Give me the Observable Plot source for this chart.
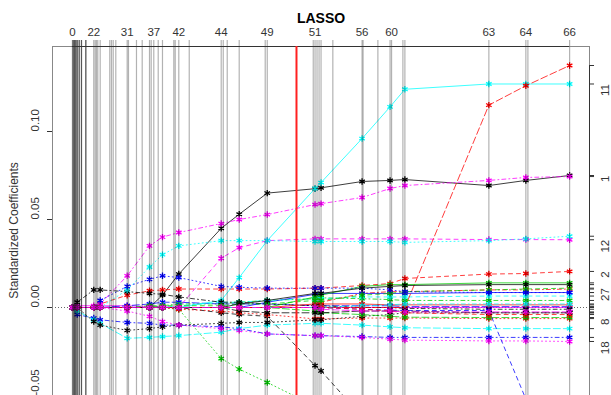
<!DOCTYPE html>
<html><head><meta charset="utf-8">
<script src="https://cdn.jsdelivr.net/npm/d3@7"></script>
<script src="https://cdn.jsdelivr.net/npm/@observablehq/plot@0.6"></script>
<style>body{margin:0;background:#fff;overflow:hidden} svg{display:block}</style>
</head><body><div id="chart"></div>
<script>
// |beta|/max|beta| at each LARS step 0..66
const stepPos = [0,0.0016,0.0016,0.0016,0.0042,0.0042,0.0042,0.0068,0.0068,0.0068,0.0097,0.0097,0.0097,0.0137,0.0137,0.0137,0.0183,0.0183,0.0183,0.0270,0.0270,0.0270,
  0.0430,0.0459,0.0485,0.0511,0.0559,0.0752,0.0786,0.0821,0.0873,
  0.1102,0.1128,0.1289,0.1404,0.1551,0.1585,0.1637,0.1726,0.1812,0.2040,0.2068,0.2140,0.2350,
  0.2993,0.3034,0.3114,0.3355,0.3878,0.3919,0.4844,0.4880,0.4920,0.4961,0.5001,0.5238,
  0.5826,0.5846,0.6144,0.6389,0.6419,0.6647,0.6687,0.8376,0.9120,0.9161,1.0];
const topLabelSteps = [0,22,31,37,42,44,49,51,56,60,63,64,66];
const knotSteps = [0,10,22,26,31,35,39,42,44,47,49,51,54,56,59,62,63,64,66];
// standardized coefficients (x 1000) at the knot steps, per variable
const v1  = [0,0,0,0,0,0,7,19,45,53,65,67.5,68,71.6,72.2,72.7,69.3,72.2,75];
const v2  = [0,0,0,2,7,9.5,10,10.5,10.5,10.5,10.5,11,11,12.5,13.6,16.5,19,19.3,20.5];
const v3  = [0,0,0,0,0,0,0,-1,-29,-35,-42.6,-56,-58,-70,-80,-85,-90,-95,-100];
const v4  = [0,-4,-6,-7,-8.5,-9,-10,-10,-11,-12,-15,-16,-16,-16.5,-17,-17,-17,-17,-17];
const v5  = [0,-2,-7,-9,-17.5,-17,-16.5,-16,-14,-12,-10,-9,-9,-10,-11,-11.5,-12,-12,-12];
const v6  = [0,1,1,1,1,0.5,0.5,0,0,0,0,0,0,0,0,0,0,0,0];
const v7  = [0,0,0,0,0,0,0,0,-3,-4,-5,-33,-36,-62,-80,-85,-90,-95,-100];
const v8  = [0,0,0,0,0,0,0,-1,-2,-3,-4,-6.5,-6.5,-6,-6,-6,-6.3,-6.3,-6.3];
const v9  = [0,0,0,0,0,0,1,2,2,3,4,5,5.5,5,4.5,4,4,4,4];
const v10 = [0,0,0,0,1,2,3,3,2,2,2,1,1,1,1,0.5,0.5,0.5,0.5];
const v11 = [0,0,0,0,0,0,0,0,4,17,38,67.6,71,96,114,124,127,127,127];
const v12 = [0,0,0,0,0,0,0,0,28,34,38,39,39,39,39,39,38.6,38.6,38.5];
const v13 = [0,0,-8,-10,-13,-12,-11,-10,-9,-8.5,-8.5,-7,-7,-5,-4,-3,-3,-3,-3];
const v14 = [0,0,0,0,0,0,0,0,0,0,0,0,3,8,9,9,10,10,10.5];
const v15 = [0,0,0,0,0,0,0,0,0,0,0,-2,-3,-4,-5,-5.5,-5.7,-5.7,-5.7];
const v16 = [0,0,0,0,0,0,0,0,0,0,3,7.5,8,8,8,8,8.5,8.5,8.5];
const v17 = [0,0,0,0,0,0,0,1,3,3,4,5,5,6,6,6,6.5,6.5,6.5];
const v18 = [0,0,0,0,-2,-5,-8,-10,-12,-13,-15,-16,-16,-17,-18,-18.5,-19,-19,-19.3];
const v19 = [0,3,10,10,9,8,7.5,6,3,3,2,1,1,0,0,-0.5,-1,-1,-1];
const v20 = [0,0,0,0,0,0,0,0,0,0,0,0,0,0,0,0,115,126,137.5];
const v21 = [0,0,0,0,0,0,0,0,0,0,0,6,7,12,13,13,14,14,14];
const v22 = [0,0,0,0,0,0,0,0,0,0,0,0,0,-1,-1.5,-1.7,-1.7,-52,-75];
const v23 = [0,0,0,0,10,23,30,35,38,38,38,37.5,37.5,37.5,37.5,37,38,39,40.5];
const v24 = [0,0,0,2,18,35,40,42.6,47.7,50,52.8,58.5,59,62.5,67.6,69.3,72.2,73.9,74.4];
const v25 = [0,0,0,0,0,0,0,0,0,-2,-3,-3,-3,-2,-2,-2,-3,-3,-3];
const v26 = [0,0,0,0,0,0,0,0,0,0,0,2,2,2,1.5,1.5,1.5,1.5,1.5];
const v27 = [0,0,0,0,0,1,1,1,1,2,2,4,4,7,8,9,10,10.5,11];
const v28 = [0,0,0,4,12,16,18,17,12,11.5,11,11,11,11,10,9,8.5,8.5,8.5];
const v29 = [0,0,0,0,0,0,0,0,0,0,0,0,0,1,1.5,2,2,2,2];
const v30 = [0,0,0,0,0,0,0,0,0,0,0,0,-1,-2,-2,-2.5,-2.5,-2.5,-2.5];
const v31 = [0,0,0,0,0,0,0,0,0,2,4,8,8,11,12,12.5,13,13,13];
const v32 = [0,0,0,0,0,0,0,0,0,0,0,0,0,-1,-2,-3,-4,-4,-4];
const paths = [v1,v2,v3,v4,v5,v6,v7,v8,v9,v10,v11,v12,v13,v14,v15,v16,v17,v18,v19,v20,v21,v22,v23,v24,v25,v26,v27,v28,v29,v30,v31,v32];
const rightLabels = [11,1,12,2,27,8,18];
const chosenFraction = 0.4507;
const yTicks = [-0.05,0,0.05,0.10];

const palette = ["#000000","#FF0000","#00CD00","#0000FF","#00FFFF","#FF00FF"];
const dashes = [null,"4,4","1,3","1,3,4,3","7,3"];
const yTop = 0.1483, yBot = -0.05;

const series = paths.map((vals,k) => ({
  id: k+1,
  color: palette[k % 6],
  dash: dashes[k % 5],
  rows: knotSteps.map((s,i) => ({x: stepPos[s], y: vals[i]/1000}))
}));
const finals = series.map(s => s.rows[s.rows.length-1].y).filter(v => v >= yBot && v <= yTop);
// magenta series drawn last so it sits on top along the zero line
const drawOrder = series.filter(s => s.id !== 30).concat(series.filter(s => s.id === 30));

const marks = [];
marks.push(Plot.ruleY([0], {stroke:"#666", strokeDasharray:"1,2"}));
for (const s of drawOrder) {
  marks.push(Plot.line(s.rows, {x:"x", y:"y", stroke:s.color, strokeWidth:0.9, strokeOpacity:0.85, strokeDasharray:s.dash, clip:true}));
}
for (const s of drawOrder) {
  marks.push(Plot.dot(s.rows, {x:"x", y:"y", symbol:"asterisk", r:3, stroke:s.color, strokeWidth:1.3, clip:true}));
}
marks.push(Plot.ruleX(stepPos, {y1:-0.06, y2:0.1517, stroke:"#000", strokeOpacity:0.3, strokeWidth:1.2, clip:false}));
marks.push(Plot.frame({stroke:"#888"}));
marks.push(Plot.ruleY([yTop], {x1:0, x2:1, stroke:"#333"}));
marks.push(Plot.ruleX([chosenFraction], {stroke:"#FF2020", strokeWidth:2}));
marks.push(Plot.axisX({anchor:"top", label:null, ticks: topLabelSteps.map(s => stepPos[s]), tickSize:0, tickPadding:11,
  tickFormat: d => String(stepPos.indexOf(d)), fontSize:11.5, fill:"#333"}));
marks.push(Plot.axisY({label:null, ticks: yTicks, tickSize:5, tickFormat: () => "", stroke:"#333"}));
marks.push(Plot.text(yTicks, {y: d => d, frameAnchor:"left", dx:-17, rotate:-90, text: d => d.toFixed(2), fontSize:11.5, fill:"#333"}));
marks.push(Plot.text(["Standardized Coefficients"], {y: [0.005], frameAnchor:"left", dx:-38, rotate:-90, fontSize:12, fill:"#333"}));
marks.push(Plot.text(["LASSO"], {frameAnchor:"top", dy:-33, fontWeight:"bold", fontSize:14, fill:"#000"}));
marks.push(Plot.ruleY(finals, {x1:1.04, x2:1.0501, stroke:"#333", clip:false}));
marks.push(Plot.ruleX([1.04], {y1: d3.min(finals), y2: d3.max(finals), stroke:"#333"}));
marks.push(Plot.text(rightLabels, {y: k => paths[k-1][paths[k-1].length-1]/1000, frameAnchor:"right", dx:16, rotate:-90, text: k => String(k), fontSize:11.5, fill:"#333"}));

const chart = Plot.plot({
  width: 611, height: 395,
  marginLeft: 52, marginRight: 22, marginTop: 46, marginBottom: 0,
  x: {domain: [-0.04, 1.04], label: null},
  y: {domain: [yBot, yTop], label: null},
  style: {fontFamily: "Liberation Sans, Arial, sans-serif", background: "#fff"},
  marks
});
document.getElementById("chart").appendChild(chart);
</script>
</body></html>
